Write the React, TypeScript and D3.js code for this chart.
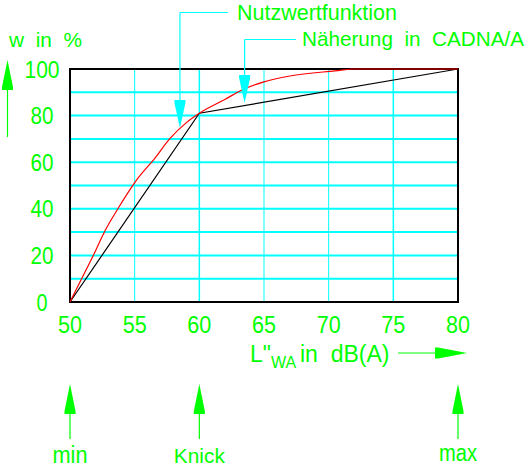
import * as d3 from 'd3';
import React from 'react';

// values
const xTicks = [50, 55, 60, 65, 70, 75, 80];
const yTicks = [0, 20, 40, 60, 80, 100];
const yGrid = [10, 20, 30, 40, 50, 60, 70, 80, 90];
const xGrid = [55, 60, 65, 70, 75];

const nutzX = [50, 50.9, 51.8, 52.7, 53.7, 55.1, 56.6, 57.7, 59, 60, 62, 63.3, 65, 67, 70.5, 72, 80];
const nutzY = [0, 10, 20, 30.5, 40, 52, 62, 70, 77, 81, 87, 91, 94.5, 97, 99.2, 100, 100];

const naherX = [50, 60, 80];
const naherY = [0, 81, 100];

const markerX = [50, 60, 80];
const markerLabels = ['min', 'Knick', 'max'];

const GREEN = '#00ff00';
const CYAN = '#00ffff';
const FONT = "'Liberation Sans Narrow', 'Liberation Sans', Arial, sans-serif";
const SP = '\u00a0\u00a0'; // wide CAD word spacing

const W = 531;
const H = 467;

const x = d3.scaleLinear().domain([50, 80]).range([70, 458]);
const y = d3.scaleLinear().domain([0, 100]).range([302, 69]);

const line = d3.line<[number, number]>()
  .x(d => x(d[0]))
  .y(d => y(d[1]));

const smooth = d3.line<[number, number]>()
  .x(d => x(d[0]))
  .y(d => y(d[1]))
  .curve(d3.curveMonotoneX);

// CAD style arrow heads
const upHead = (cx: number, tip: number) =>
  `M${cx},${tip} L${cx + 5.5},${tip + 27} L${cx + 5.5},${tip + 30} L${cx - 5.5},${tip + 30} L${cx - 5.5},${tip + 27} Z`;
const downHead = (cx: number, top: number) =>
  `M${cx - 5.5},${top} L${cx + 5.5},${top} L${cx + 5.5},${top + 3} L${cx},${top + 28} L${cx - 5.5},${top + 3} Z`;
const rightHead = (tip: number, cy: number) =>
  `M${tip},${cy} L${tip - 29},${cy + 5.5} L${tip - 32},${cy + 5.5} L${tip - 32},${cy - 5.5} L${tip - 29},${cy - 5.5} Z`;

const App: React.FC = () => {
  const nutz = nutzX.map((v, i) => [v, nutzY[i]] as [number, number]);
  const naher = naherX.map((v, i) => [v, naherY[i]] as [number, number]);

  const nutzArrow = x(58.5);
  const naherArrow = x(63.5);

  return (
    <svg width={W} height={H} style={{ position: 'absolute', left: 0, top: 0, background: '#fff' }}
      fontFamily={FONT}>
      {/* grid */}
      {yGrid.map(v => (
        <line key={'h' + v} x1={x(50)} x2={x(80)} y1={y(v)} y2={y(v)} stroke={CYAN} strokeWidth={2} />
      ))}
      {xGrid.map(v => (
        <line key={'v' + v} x1={x(v)} x2={x(v)} y1={y(0)} y2={y(100)} stroke={CYAN}
          strokeWidth={v === 60 || v === 75 ? 1.5 : 1} />
      ))}
      {/* frame */}
      <rect x={x(50)} y={y(100)} width={x(80) - x(50)} height={y(0) - y(100)}
        fill="none" stroke="#000" strokeWidth={2} />

      {/* curves */}
      <path d={line(naher) ?? ''} fill="none" stroke="#000" strokeWidth={1.2} />
      <path d={smooth(nutz) ?? ''} fill="none" stroke="#ff0000" strokeWidth={1.2} />

      {/* y axis */}
      <text x={9} y={47} fill={GREEN} fontSize={21} textLength={73} lengthAdjust="spacingAndGlyphs">{`w${SP}in${SP}%`}</text>
      <line x1={7.5} x2={7.5} y1={75} y2={137} stroke={GREEN} strokeWidth={1.2} />
      <path d={upHead(7.5, 60)} fill={GREEN} />
      {yTicks.map(v => (
        <text key={'yt' + v} x={42} y={y(v) + 8.5} fill={GREEN} fontSize={23} textAnchor="middle"
          textLength={v === 100 ? 35 : v === 0 ? 11 : 23} lengthAdjust="spacingAndGlyphs">{v}</text>
      ))}

      {/* x axis */}
      {xTicks.map(v => (
        <text key={'xt' + v} x={x(v)} y={333} fill={GREEN} fontSize={23} textAnchor="middle"
          textLength={24} lengthAdjust="spacingAndGlyphs">{v}</text>
      ))}
      <text x={250} y={362} fill={GREEN} fontSize={23}>
        L"<tspan x={271} y={368} fontSize={16}>WA</tspan>
        <tspan x={300} y={362} fontSize={23}>{`in${SP}dB(A)`}</tspan>
      </text>
      <line x1={398} x2={436} y1={353} y2={353} stroke={GREEN} strokeWidth={1.2} />
      <path d={rightHead(467, 353)} fill={GREEN} />

      {/* min / Knick / max markers */}
      {markerX.map((v, i) => (
        <g key={'m' + v}>
          <line x1={x(v)} x2={x(v)} y1={410} y2={439} stroke={GREEN} strokeWidth={1.2} />
          <path d={upHead(x(v), 384)} fill={GREEN} />
          <text x={x(v)} y={i === 2 ? 461 : 463} fill={GREEN} fontSize={i === 1 ? 21 : 23} textAnchor="middle"
            textLength={i === 0 ? 35 : i === 1 ? 51 : 38} lengthAdjust="spacingAndGlyphs">{markerLabels[i]}</text>
        </g>
      ))}

      {/* annotations */}
      <line x1={nutzArrow} x2={228} y1={12.5} y2={12.5} stroke={CYAN} strokeWidth={1.2} />
      <line x1={nutzArrow} x2={nutzArrow} y1={12.5} y2={101} stroke={CYAN} strokeWidth={1.2} />
      <path d={downHead(nutzArrow, 100)} fill={CYAN} />
      <text x={237} y={20} fill={GREEN} fontSize={22} textLength={160} lengthAdjust="spacingAndGlyphs">Nutzwertfunktion</text>

      <line x1={naherArrow} x2={296} y1={39.5} y2={39.5} stroke={CYAN} strokeWidth={1.2} />
      <line x1={naherArrow} x2={naherArrow} y1={39.5} y2={76} stroke={CYAN} strokeWidth={1.2} />
      <path d={downHead(naherArrow, 75)} fill={CYAN} />
      <text x={302} y={46} fill={GREEN} fontSize={21} textLength={222} lengthAdjust="spacingAndGlyphs">{`Näherung${SP}in${SP}CADNA/A`}</text>
    </svg>
  );
};

export default App;
